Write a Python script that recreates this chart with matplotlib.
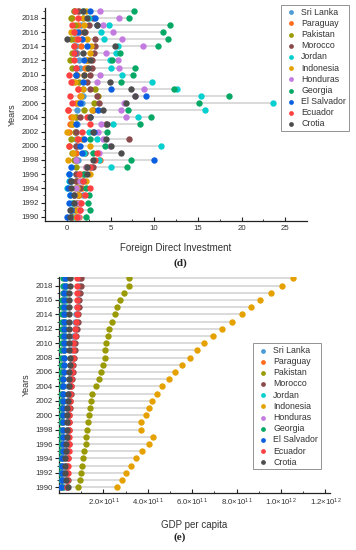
import numpy as np
import matplotlib
matplotlib.use('Agg')
import matplotlib.pyplot as plt
from matplotlib.ticker import FixedLocator, FuncFormatter

plt.rcParams['font.family'] = ['Liberation Sans', 'DejaVu Sans']
plt.rcParams['mathtext.fontset'] = 'custom'
plt.rcParams['mathtext.rm'] = 'Liberation Sans'
plt.rcParams['mathtext.it'] = 'Liberation Sans:italic'

years = list(range(1990, 2020))
countries = ['Sri Lanka', 'Paraguay', 'Pakistan', 'Morocco', 'Jordan', 'Indonesia',
             'Honduras', 'Georgia', 'El Salvador', 'Ecuador', 'Crotia']
colors = ['#4a9bd6', '#ff6b1a', '#9a9a05', '#8a4a4c', '#05cfcf', '#e5a100',
          '#c47be0', '#05a864', '#0a5fe0', '#ff4040', '#4d4d4d']

# Foreign Direct Investment, 1990..2019
fdi_sri_lanka = [0.5, 0.5, 1.2, 1.9, 1.3, 0.5, 1.1, 2.8, 1.3, 1.1, 1.1, 1.1, 1.1, 1.2, 1.1,
                 1.2, 1.7, 1.9, 1.8, 0.7, 1.0, 1.5, 1.4, 1.2, 1.1, 0.8, 1.0, 1.6, 1.9, 0.8]
fdi_paraguay = [1.4, 1.4, 1.5, 1.4, 1.7, 1.3, 1.8, 2.2, 3.8, 1.1, 1.3, 1.2, 0.2, 0.4, 0.5,
                0.1, 1.1, 1.5, 1.3, 0.6, 1.2, 2.1, 2.3, 1.0, 1.6, 1.1, 1.5, 1.3, 0.6, 1.4]
fdi_pakistan = [0.6, 0.6, 0.7, 0.8, 0.9, 1.1, 1.5, 1.1, 0.8, 0.6, 0.3, 0.5, 0.9, 0.6, 1.1,
                2.0, 3.1, 3.6, 3.2, 1.4, 1.1, 0.6, 0.4, 0.6, 0.8, 0.5, 0.8, 0.9, 0.5, 0.8]
fdi_morocco = [0.6, 0.9, 1.2, 1.3, 1.5, 1.0, 1.0, 3.0, 1.0, 2.1, 1.1, 7.1, 1.0, 4.5, 1.5,
               3.0, 3.7, 3.5, 2.7, 2.3, 2.6, 2.9, 2.9, 3.1, 3.2, 3.2, 2.1, 2.5, 3.0, 1.3]
fdi_jordan = [0.9, 0.5, 0.6, 0.4, 0.0, 0.2, 0.2, 5.0, 3.7, 2.0, 10.8, 3.4, 2.5, 5.3, 8.2,
              15.8, 23.6, 15.4, 12.6, 9.8, 6.3, 5.1, 4.9, 5.6, 5.9, 4.2, 3.9, 4.8, 2.5, 1.8]
fdi_indonesia = [1.0, 1.2, 1.3, 1.3, 1.2, 2.2, 2.6, 2.2, 0.1, 0.7, 2.7, 1.7, 0.0, 0.6, 0.7,
                 2.9, 1.3, 1.6, 1.8, 0.9, 2.0, 2.3, 2.3, 2.6, 2.8, 2.3, 0.5, 2.0, 1.8, 2.2]
fdi_honduras = [1.3, 1.5, 1.4, 0.8, 1.0, 1.5, 2.0, 2.2, 1.1, 3.7, 4.9, 4.1, 3.6, 3.9, 6.8,
                6.2, 6.6, 7.8, 8.8, 3.4, 3.8, 6.0, 5.9, 4.5, 8.7, 6.3, 5.3, 4.1, 6.0, 3.8]
fdi_georgia = [2.2, 2.7, 2.4, 2.5, 2.2, 1.8, 2.0, 6.9, 7.4, 3.0, 4.4, 2.6, 4.6, 8.4, 9.6,
               7.0, 15.1, 18.6, 12.3, 6.2, 7.6, 7.8, 5.2, 6.1, 10.4, 11.6, 11.0, 11.8, 7.1, 7.7]
fdi_el_salvador = [0.0, 0.5, 0.3, 0.4, 0.1, 0.4, 0.2, 0.5, 10.0, 1.7, 1.5, 2.0, 3.1, 1.0, 2.6,
                   3.6, 1.5, 9.1, 5.1, 1.8, 1.0, 1.0, 2.0, 0.9, 2.3, 1.7, 1.3, 3.4, 3.2, 2.6]
fdi_ecuador = [1.2, 1.5, 1.6, 2.1, 2.6, 1.9, 1.4, 2.6, 3.2, 3.4, 0.2, 1.3, 1.7, 2.6, 2.3,
               0.1, 0.6, 0.4, 1.3, 0.5, 0.2, 1.1, 0.8, 0.8, 0.8, 1.3, 0.8, 0.6, 1.3, 0.9]
fdi_crotia = [0.4, 0.4, 0.8, 0.8, 0.5, 0.5, 2.3, 2.3, 3.0, 6.2, 5.0, 4.5, 3.0, 4.6, 2.6,
              4.1, 6.8, 7.8, 7.4, 4.9, 2.0, 2.4, 2.6, 1.8, 5.5, 0.0, 2.0, 3.5, 2.3, 1.8]

# GDP (units of 1e11), 1990..2019
gdp_sri_lanka = [0.22, 0.23, 0.24, 0.26, 0.27, 0.29, 0.30, 0.32, 0.34, 0.35, 0.37, 0.36, 0.38, 0.40, 0.42,
                 0.45, 0.48, 0.51, 0.54, 0.56, 0.60, 0.65, 0.71, 0.73, 0.77, 0.81, 0.84, 0.87, 0.90, 0.92]
gdp_paraguay = [0.14, 0.14, 0.15, 0.15, 0.16, 0.17, 0.17, 0.17, 0.17, 0.17, 0.17, 0.17, 0.17, 0.18, 0.18,
                0.19, 0.19, 0.20, 0.21, 0.21, 0.24, 0.25, 0.25, 0.27, 0.28, 0.29, 0.30, 0.31, 0.32, 0.32]
gdp_pakistan = [0.86, 0.95, 1.00, 1.05, 1.09, 1.14, 1.20, 1.22, 1.24, 1.29, 1.35, 1.40, 1.45, 1.50, 1.65,
                1.78, 1.90, 2.00, 2.05, 2.08, 2.10, 2.20, 2.27, 2.37, 2.50, 2.60, 2.76, 2.94, 3.14, 3.17]
gdp_morocco = [0.36, 0.39, 0.37, 0.37, 0.41, 0.38, 0.43, 0.42, 0.45, 0.45, 0.46, 0.49, 0.50, 0.53, 0.56,
               0.57, 0.62, 0.64, 0.68, 0.71, 0.74, 0.78, 0.80, 0.84, 0.86, 0.89, 0.90, 0.94, 0.97, 1.00]
gdp_jordan = [0.09, 0.09, 0.10, 0.11, 0.12, 0.12, 0.13, 0.13, 0.13, 0.14, 0.14, 0.15, 0.16, 0.16, 0.17,
              0.19, 0.20, 0.22, 0.23, 0.24, 0.26, 0.27, 0.27, 0.28, 0.29, 0.30, 0.31, 0.31, 0.32, 0.32]
gdp_indonesia = [2.59, 2.82, 3.00, 3.23, 3.45, 3.73, 4.05, 4.23, 3.68, 3.70, 3.90, 4.05, 4.20, 4.42, 4.65,
                 4.95, 5.23, 5.55, 5.90, 6.20, 6.55, 6.95, 7.36, 7.80, 8.23, 8.64, 9.05, 9.55, 10.05, 10.55]
gdp_honduras = [0.08, 0.08, 0.09, 0.09, 0.09, 0.10, 0.10, 0.10, 0.11, 0.11, 0.11, 0.12, 0.12, 0.13, 0.13,
                0.14, 0.15, 0.16, 0.16, 0.16, 0.16, 0.17, 0.18, 0.18, 0.18, 0.19, 0.19, 0.20, 0.21, 0.21]
gdp_georgia = [0.14, 0.11, 0.06, 0.05, 0.05, 0.05, 0.06, 0.06, 0.06, 0.07, 0.07, 0.07, 0.08, 0.08, 0.09,
               0.09, 0.10, 0.11, 0.11, 0.11, 0.12, 0.12, 0.13, 0.14, 0.14, 0.14, 0.15, 0.16, 0.16, 0.17]
gdp_el_salvador = [0.11, 0.12, 0.13, 0.14, 0.15, 0.16, 0.16, 0.17, 0.17, 0.18, 0.18, 0.18, 0.19, 0.19, 0.19,
                   0.20, 0.21, 0.21, 0.22, 0.21, 0.21, 0.22, 0.22, 0.23, 0.23, 0.23, 0.24, 0.24, 0.25, 0.25]
gdp_ecuador = [0.36, 0.38, 0.39, 0.40, 0.42, 0.43, 0.44, 0.46, 0.46, 0.43, 0.44, 0.46, 0.48, 0.49, 0.53,
               0.55, 0.57, 0.58, 0.62, 0.63, 0.65, 0.70, 0.74, 0.77, 0.80, 0.81, 0.80, 0.82, 0.83, 0.83]
gdp_crotia = [0.40, 0.32, 0.29, 0.27, 0.29, 0.31, 0.33, 0.35, 0.36, 0.35, 0.36, 0.37, 0.39, 0.41, 0.43,
              0.44, 0.46, 0.48, 0.49, 0.45, 0.45, 0.45, 0.44, 0.43, 0.43, 0.44, 0.45, 0.47, 0.48, 0.50]

fdi = [fdi_sri_lanka, fdi_paraguay, fdi_pakistan, fdi_morocco, fdi_jordan, fdi_indonesia,
       fdi_honduras, fdi_georgia, fdi_el_salvador, fdi_ecuador, fdi_crotia]
gdp = [gdp_sri_lanka, gdp_paraguay, gdp_pakistan, gdp_morocco, gdp_jordan, gdp_indonesia,
       gdp_honduras, gdp_georgia, gdp_el_salvador, gdp_ecuador, gdp_crotia]
gdp = [np.array(g) * 1e11 for g in gdp]

spine_col = '#222222'
text_col = '#333333'


def dot_plot(ax, series, xlabel):
    arr = np.array(series)
    # gray range line per year
    ax.hlines(years, arr.min(axis=0), arr.max(axis=0), color='#d4d4d4', lw=1.2, zorder=1)
    for vals, name, col in zip(series, countries, colors):
        ax.scatter(vals, years, s=21, color=col, label=name, zorder=3, linewidths=0)
    for s in ['top', 'right']:
        ax.spines[s].set_visible(False)
    for s in ['left', 'bottom']:
        ax.spines[s].set_color(spine_col)
        ax.spines[s].set_linewidth(0.9)
    ax.set_yticks(range(1990, 2019, 2))
    ax.yaxis.set_minor_locator(FixedLocator(range(1989, 2020)))
    ax.tick_params(axis='y', which='major', direction='out', length=3, width=0.8,
                   labelsize=5.6, colors=spine_col, labelcolor=text_col, pad=1.5)
    ax.tick_params(axis='y', which='minor', direction='out', length=1.6, width=0.6, colors=spine_col)
    ax.tick_params(axis='x', which='major', direction='in', length=3, width=0.8,
                   labelsize=5.6, colors=spine_col, labelcolor=text_col, pad=3)
    ax.tick_params(axis='x', which='minor', direction='in', length=1.6, width=0.6, colors=spine_col)
    ax.set_xlabel(xlabel, fontsize=7, color=text_col, labelpad=8)
    ax.set_ylabel('Years', fontsize=6.5, color=text_col, labelpad=3)
    return ax


def add_legend(ax, anchor):
    leg = ax.legend(loc='upper left', bbox_to_anchor=anchor, bbox_transform=fig.transFigure,
                    fontsize=6.3, frameon=True, fancybox=False, borderaxespad=0, borderpad=0.3,
                    labelspacing=0.25, handletextpad=0.4, handlelength=1.6, markerscale=0.75)
    leg.get_frame().set_edgecolor('#777777')
    leg.get_frame().set_linewidth(0.7)
    for t in leg.get_texts():
        t.set_color(text_col)
    return leg


fig = plt.figure(figsize=(3.56, 5.5), dpi=100)

# (d) Foreign Direct Investment
ax1 = fig.add_axes([0.1264, 0.5987, 0.736, 0.387])
dot_plot(ax1, fdi, 'Foreign Direct Investment')
ax1.set_xlim(-2.5, 27.5)
ax1.set_ylim(1989.45, 2019.4)
ax1.set_xticks([0, 5, 10, 15, 20, 25])
ax1.xaxis.set_minor_locator(FixedLocator([2.5, 7.5, 12.5, 17.5, 22.5]))
add_legend(ax1, (0.789, 0.991))
fig.text(0.508, 0.522, '(d)', fontsize=8, fontweight='bold', family='Liberation Serif',
         ha='center', va='center', color='#222222')

# (e) GDP per capita
ax2 = fig.add_axes([0.1657, 0.1036, 0.761, 0.393])
dot_plot(ax2, gdp, 'GDP per capita')
ax2.set_xlim(0, 1.22e12)
ax2.set_ylim(1989.2, 2019.2)
ax2.set_xticks([2e11, 4e11, 6e11, 8e11, 1e12, 1.2e12])
ax2.xaxis.set_minor_locator(FixedLocator([1e11, 3e11, 5e11, 7e11, 9e11, 1.1e12]))


def sci_fmt(v, pos):
    e = int(np.floor(np.log10(v)))
    m = v / 10 ** e
    return f'{m:.1f}×10$^{{{e}}}$'


ax2.xaxis.set_major_formatter(FuncFormatter(sci_fmt))
add_legend(ax2, (0.711, 0.376))
fig.text(0.505, 0.023, '(e)', fontsize=8, fontweight='bold', family='Liberation Serif',
         ha='center', va='center', color='#222222')

fig.savefig('out.png', dpi=100)
